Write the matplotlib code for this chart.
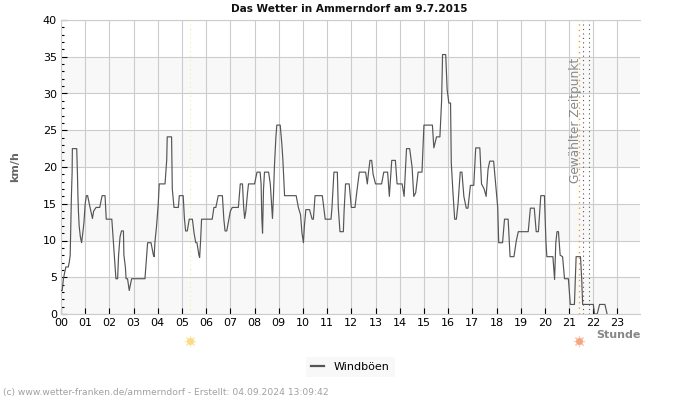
import matplotlib
matplotlib.use("Agg")
import matplotlib.pyplot as plt
from matplotlib.ticker import MultipleLocator

# Windboeen (hour, km/h)
hours = [0.0, 0.05, 0.1, 0.2, 0.3, 0.34, 0.38, 0.4, 0.43, 0.46, 0.47, 0.65, 0.68, 0.7, 0.72, 0.75, 0.8, 0.85, 0.9, 0.95, 1.0, 1.05, 1.1,
         1.2, 1.3, 1.35, 1.45, 1.6, 1.7, 1.82, 1.87, 2.1, 2.16, 2.23, 2.27, 2.34, 2.38, 2.44, 2.5, 2.58, 2.6, 2.66, 2.69, 2.75, 2.82, 2.92,
         3.47, 3.54, 3.58, 3.72, 3.82, 3.85, 3.88, 3.95, 4.02, 4.06, 4.3, 4.37, 4.39, 4.57, 4.6, 4.67, 4.85, 4.89, 5.05, 5.1, 5.15, 5.22,
         5.3, 5.43, 5.5, 5.57, 5.62, 5.7, 5.73, 5.77, 5.81, 6.25, 6.32, 6.4, 6.5, 6.67, 6.73, 6.78, 6.85, 6.94, 7.0, 7.08, 7.33, 7.41, 7.5,
         7.55, 7.59, 7.64, 7.71, 7.75, 8.0, 8.1, 8.23, 8.27, 8.3, 8.33, 8.37, 8.41, 8.58, 8.65, 8.71, 8.74, 8.78, 8.82, 8.88, 8.92, 9.06,
         9.13, 9.17, 9.24, 9.72, 9.81, 9.9, 9.96, 10.02, 10.06, 10.12, 10.27, 10.38, 10.43, 10.5, 10.8, 10.92, 11.16, 11.2, 11.28, 11.42,
         11.46, 11.53, 11.67, 11.7, 11.76, 11.91, 12.0, 12.15, 12.24, 12.33, 12.59, 12.66, 12.71, 12.77, 12.84, 12.9, 13.0, 13.25, 13.34,
         13.5, 13.57, 13.63, 13.67, 13.82, 13.89, 14.1, 14.18, 14.24, 14.28, 14.41, 14.51, 14.58, 14.66, 14.76, 14.92, 14.98, 15.0, 15.35,
         15.41, 15.52, 15.66, 15.73, 15.77, 15.9, 15.96, 16.03, 16.1, 16.13, 16.2, 16.27, 16.34, 16.41, 16.5, 16.57, 16.65, 16.75, 16.82,
         16.92, 17.06, 17.14, 17.31, 17.38, 17.49, 17.57, 17.65, 17.72, 17.88, 17.98, 18.05, 18.09, 18.25, 18.33, 18.48, 18.56, 18.72,
         18.82, 18.9, 19.31, 19.4, 19.56, 19.64, 19.73, 19.83, 19.98, 20.04, 20.08, 20.33, 20.4, 20.45, 20.5, 20.56, 20.63, 20.73, 20.81,
         20.97, 21.05, 21.22, 21.29, 21.47, 21.52, 21.56, 22.0, 22.05, 22.16, 22.26, 22.48, 22.57]
gusts = [3.2, 3.2, 4.8, 6.4, 6.4, 7.0, 8.0, 11.5, 16.0, 19.3, 22.5, 22.5, 19.0, 16.0, 14.0, 12.0, 10.5, 9.7, 11.0, 12.5, 15.0, 16.1, 16.1,
         14.5, 13.0, 14.0, 14.5, 14.5, 16.1, 16.1, 12.9, 12.9, 10.0, 6.4, 4.8, 4.8, 8.0, 10.5, 11.3, 11.3, 8.0, 6.4, 4.8, 4.8, 3.2, 4.8,
         4.8, 8.0, 9.7, 9.7, 8.0, 7.8, 9.7, 12.0, 15.0, 17.7, 17.7, 21.0, 24.1, 24.1, 17.0, 14.5, 14.5, 16.1, 16.1, 13.0, 11.3, 11.3,
         12.9, 12.9, 11.0, 9.7, 9.7, 8.0, 7.7, 10.0, 12.9, 12.9, 14.5, 14.5, 16.1, 16.1, 12.9, 11.3, 11.3, 12.9, 14.0, 14.5, 14.5, 17.7, 17.7,
         14.5, 13.0, 14.0, 16.5, 17.7, 17.7, 19.3, 19.3, 17.7, 13.0, 11.0, 17.0, 19.3, 19.3, 17.7, 14.5, 13.0, 16.0, 20.0, 24.0, 25.7, 25.7,
         23.0, 21.0, 16.1, 16.1, 14.5, 13.5, 11.0, 9.7, 12.0, 14.2, 14.2, 12.9, 12.9, 16.1, 16.1, 12.9, 12.9, 14.5, 19.3, 19.3,
         14.5, 11.2, 11.2, 14.0, 17.7, 17.7, 14.5, 14.5, 17.0, 19.3, 19.3, 17.7, 19.3, 20.9, 20.9, 19.0, 17.7, 17.7, 19.3,
         19.3, 16.0, 19.0, 20.9, 20.9, 17.7, 17.7, 16.0, 20.0, 22.5, 22.5, 20.0, 16.0, 16.5, 19.3, 19.3, 24.0, 25.7, 25.7,
         22.6, 24.1, 24.1, 29.0, 35.3, 35.3, 30.5, 28.7, 28.7, 20.6, 16.5, 12.9, 12.9, 15.0, 19.3, 19.3, 16.0, 14.4, 14.4,
         17.5, 17.5, 22.6, 22.6, 17.7, 17.0, 16.0, 19.7, 20.8, 20.8, 17.0, 14.5, 9.7, 9.7, 12.9, 12.9, 7.8, 7.8,
         10.0, 11.2, 11.2, 14.4, 14.4, 11.2, 11.2, 16.1, 16.1, 10.0, 7.8, 7.8, 4.7, 9.7, 11.2, 11.2, 8.0, 7.8, 4.8,
         4.8, 1.3, 1.3, 7.8, 7.8, 4.8, 1.3, 1.3, 0.0, 0.0, 1.3, 1.3, 0.0]

hour_labels = ["%02d" % h for h in range(24)]
sunrise = 5.35
sunset = 21.42
selected = [21.58, 21.82]

fig = plt.figure(figsize=(7, 4), dpi=100)
ax = fig.add_axes([61 / 700, 86 / 400, 579 / 700, 294 / 400])

# grey bands every other 5 km/h
for low in range(0, 40, 10):
    ax.axhspan(low, low + 5, color="#f8f8f8", lw=0, zorder=0)

ax.grid(True, which="major", color="#cccccc", lw=0.8)
ax.set_axisbelow(True)
ax.plot(hours, gusts, color="#555555", lw=0.85, label="Windböen", zorder=3)

ax.axvline(sunrise, color="#f5ec9a", ls=(0, (1, 3)), lw=0.8, zorder=2)
ax.axvline(sunset, color="#f0a030", ls=(0, (1, 3)), lw=1, zorder=2)
for h in selected:
    ax.axvline(h, color="#555555", ls=(0, (1, 3)), lw=0.8, zorder=2)

ax.text(21.27, 0.87, "Gewählter Zeitpunkt", rotation=90, color="#888888", fontsize=8.75,
        ha="center", va="top", transform=ax.get_xaxis_transform())

# sun symbols below the axis
trans = ax.get_xaxis_transform()
ax.plot([sunrise], [-0.093], marker=(8, 2, 0), ms=8, color="#fbe9b0", mew=0.8, clip_on=False, transform=trans)
ax.plot([sunrise], [-0.093], marker="o", ms=5, color="#fbdc85", mew=0, clip_on=False, transform=trans)
ax.plot([sunset], [-0.093], marker=(8, 2, 0), ms=8, color="#f8c8b0", mew=0.8, clip_on=False, transform=trans)
ax.plot([sunset], [-0.093], marker="o", ms=5, color="#f5a67f", mew=0, clip_on=False, transform=trans)

ax.set_xlim(0, 23.93)
ax.set_ylim(0, 40)
ax.set_xticks(range(24))
ax.set_xticklabels(hour_labels)
ax.yaxis.set_major_locator(MultipleLocator(5))
ax.yaxis.set_minor_locator(MultipleLocator(1))
ax.tick_params(axis="both", which="major", direction="in", length=4, width=0.8, labelsize=8, color="black", pad=3)
ax.tick_params(axis="y", which="minor", direction="in", length=2.2, width=0.8, color="black")

for side in ["left", "top", "bottom", "right"]:
    ax.spines[side].set_color("#cccccc")
    ax.spines[side].set_linewidth(0.8)
ax.spines["right"].set_visible(False)

fig.text(349 / 700, 388 / 400, "Das Wetter in Ammerndorf am 9.7.2015", fontsize=7.55, fontweight="bold",
         ha="center", va="baseline", color="#111111")
fig.text(15 / 700, 233 / 400, "km/h", fontsize=8, fontweight="bold", rotation=90, color="#666666",
         ha="center", va="center")
fig.text(618 / 700, 65 / 400, "Stunde", fontsize=8, fontweight="bold", color="#888888", ha="center", va="center")
fig.text(3 / 700, 7 / 400, "(c) www.wetter-franken.de/ammerndorf - Erstellt: 04.09.2024 13:09:42", fontsize=6.55,
         color="#a0a0a0", ha="left", va="center")

leg = fig.legend(loc="center", bbox_to_anchor=(350.5 / 700, 33 / 400), fontsize=8, frameon=True, facecolor="#f8f8f8",
                 edgecolor="none", framealpha=1, fancybox=False, handlelength=1.1, handletextpad=0.9,
                 borderpad=0.45, borderaxespad=0)
leg.get_lines()[0].set_linewidth(1.6)

fig.savefig("out.png", dpi=100)
